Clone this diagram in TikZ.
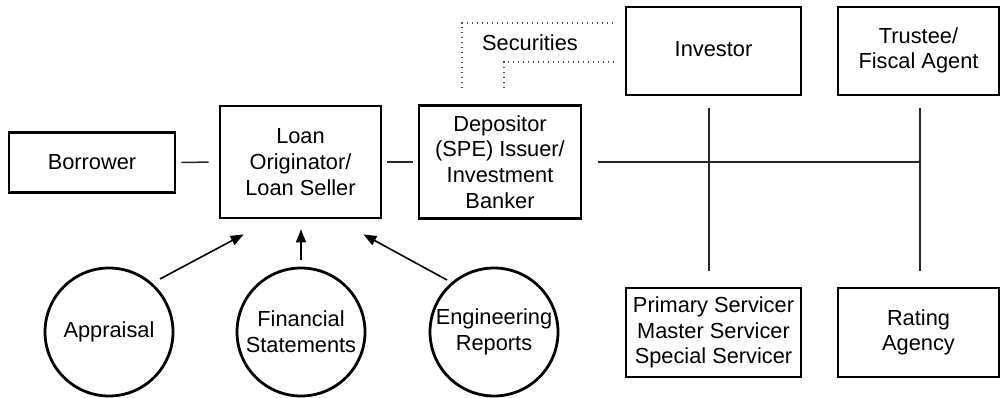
\documentclass[tikz,border=0pt]{standalone}
\usepackage{fontspec}
\setmainfont{Liberation Sans}
\usetikzlibrary{arrows.meta}
\newcommand{\liftlines}[2]{\raisebox{#1}{\begin{tabular}{@{}c@{}}#2\end{tabular}}}
\begin{document}
\begin{tikzpicture}[x=1pt,y=-1pt,
  every node/.style={font=\fontsize{21.8}{25.7}\selectfont, align=center, inner sep=0pt},
  box/.style={draw, line width=2.8pt},
  disc/.style={draw, circle, line width=2.8pt, minimum size=128pt},
  link/.style={line width=1.5pt, draw=black!85},
  arr/.style={line width=1.6pt, -{Triangle[length=13pt,width=10pt]}},
  flow/.style={line width=1.6pt, draw=black!70, dash pattern=on 1.5pt off 3.5pt}]
\useasboundingbox (0,0) rectangle (1003,398);

% parties in the transaction
\node[box, minimum width=166pt, minimum height=60pt]  (bor)  at (92,162.5)    {Borrower};
\node[box, minimum width=161pt, minimum height=112pt] (loan) at (300.5,162)   {Loan\\Originator/\\Loan Seller};
\node[box, minimum width=162pt, minimum height=113pt] (dep)  at (500,162)     {Depositor\\(SPE) Issuer/\\Investment\\Banker};
\node[box, minimum width=175pt, minimum height=88pt]  (inv)  at (713.5,51)    {\liftlines{4pt}{Investor}};
\node[box, minimum width=161pt, minimum height=88pt]  (tru)  at (918.5,51)    {\liftlines{4pt}{Trustee/\\Fiscal Agent}};
\node[box, minimum width=175pt, minimum height=89pt]  (srv)  at (713.5,332.5) {Primary Servicer\\Master Servicer\\Special Servicer};
\node[box, minimum width=161pt, minimum height=89pt]  (rat)  at (918.5,332.5) {Rating\\Agency};

% due-diligence inputs
\node[disc] (app) at (109,332) {Appraisal};
\node[disc] (fin) at (301,332) {Financial\\Statements};
\node[disc] (eng) at (494,332) {Engineering\\Reports};

\node (sec) at (530,43) {Securities};

% chain borrower -> originator -> depositor
\draw[link, shorten <=5pt, shorten >=10pt] (bor.east) -- (loan.west);
\draw[link, shorten <=5pt, shorten >=5pt] (loan.east) -- (dep.west);

% depositor bus to investor/servicer and trustee/rating agency
\coordinate (j2) at (920,162);
\draw[link, shorten <=16pt] (dep.east) -- (j2);
\draw[link] ([shift={(-4.5,12)}]inv.south) -- ([shift={(-4.5,-16)}]srv.north);
\draw[link] ([shift={(1.5,12)}]tru.south) -- ([shift={(1.5,-16)}]rat.north);

% securities flow between depositor and investor
\coordinate (s1) at ([shift={(-38,-16)}]dep.north);
\coordinate (s2) at ([shift={(-8,-28)}]inv.west);
\coordinate (t1) at ([shift={(4,-16)}]dep.north);
\coordinate (t2) at ([shift={(-8,11)}]inv.west);
\draw[flow] (s1) |- (s2);
\draw[flow] (t1) |- (t2);

% inputs to the loan originator
\draw[arr] ([shift={(51,-53)}]app.center) -- ([shift={(25,15)}]loan.south west);
\draw[arr] ([shift={(0,-72)}]fin.center) -- ([shift={(0.5,10)}]loan.south);
\draw[arr] ([shift={(-47,-52)}]eng.center) -- ([shift={(-19,15)}]loan.south east);
\end{tikzpicture}
\end{document}
